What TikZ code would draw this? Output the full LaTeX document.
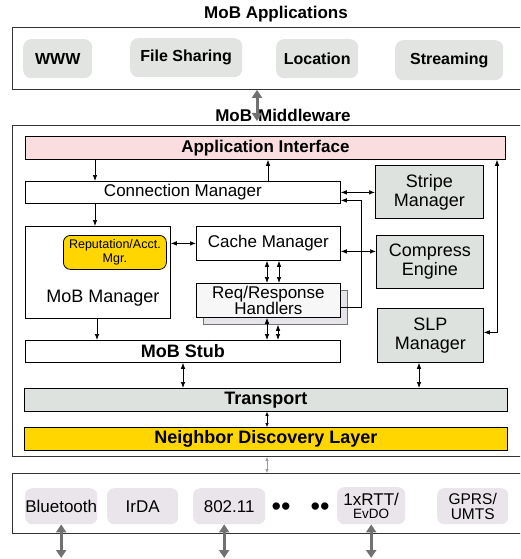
\documentclass[tikz,border=0pt]{standalone}
\usepackage{fontspec}
\setmainfont{Liberation Sans}
\usepackage{xcolor}
\usetikzlibrary{arrows.meta,calc}

\definecolor{pinkAI}{RGB}{250,221,222}
\definecolor{grayBox}{RGB}{222,226,222}
\definecolor{goldBox}{RGB}{255,214,0}
\definecolor{appGray}{RGB}{225,228,225}
\definecolor{radioGray}{RGB}{234,229,234}
\definecolor{shadowGray}{RGB}{231,228,233}
\definecolor{fatGray}{RGB}{112,114,112}

\newcommand{\fsApp}{\fontsize{16}{17}\selectfont}
\newcommand{\fsMid}{\fontsize{17}{18}\selectfont}
\newcommand{\fsBig}{\fontsize{18}{19}\selectfont}
\newcommand{\fsSmall}{\fontsize{12.5}{14}\selectfont}

\tikzset{
  outer/.style={draw=black!80, line width=0.9pt, inner sep=0pt, anchor=north west},
  layer/.style={draw, line width=0.8pt, inner sep=0pt, anchor=north west, align=center},
  appbox/.style={fill=appGray, rounded corners=8pt, inner sep=0pt, anchor=north west, font=\bfseries\fsApp},
  radiobox/.style={fill=radioGray, rounded corners=7pt, inner sep=0pt, anchor=north west, align=center, font=\fsMid},
  arr/.style={-{Latex[length=6pt,width=4.5pt]}, line width=0.7pt},
  darr/.style={{Latex[length=6pt,width=4.5pt]}-{Latex[length=6pt,width=4.5pt]}, line width=0.7pt},
  fat/.style={{Triangle[length=8pt,width=10pt]}-{Triangle[length=8pt,width=10pt]}, line width=3pt, draw=fatGray, fill=fatGray},
}

\begin{document}
\begin{tikzpicture}[x=1pt,y=-1pt]
    \clip (0,0) rectangle (520,559);

    % Aplicacoes
    \node[font=\bfseries\fsMid] (apptitle) at (276,14) {MoB Applications};
    \node[outer, minimum width=520, minimum height=62] (apps) at (12,27) {};
    \node[appbox, minimum width=69, minimum height=39] (www) at (23,39) {WWW};
    \node[appbox, minimum width=112, minimum height=39] (share) at (130,38) {File Sharing};
    \node[appbox, minimum width=82, minimum height=39] (loc) at (276,39) {Location};
    \node[appbox, minimum width=108, minimum height=40] (stream) at (395,40) {Streaming};

    % Middleware
    \node[font=\bfseries\fsMid] (mwtitle) at (283,115) {MoB\hspace{6pt}Middleware};
    \node[outer, minimum width=520, minimum height=331] (mw) at (12,125) {};
    \draw[fat, shorten >=4pt] (257,0 |- apps.south) -- (257,0 |- mw.north);

    \node[layer, fill=pinkAI, minimum width=480, minimum height=23, font=\bfseries\fsMid] (ai) at (25,136) {Application Interface};
    \node[layer, minimum width=315, minimum height=22, font=\fsMid] (cm) at (25,181) {Connection Manager};
    \node[layer, fill=grayBox, minimum width=108, minimum height=53, font=\fsBig] (stripe) at (375,165) {Stripe\\Manager};
    \node[layer, minimum width=145, minimum height=92] (mob) at (25,226) {};
    \node[font=\fsBig] (moblabel) at ($(mob.south)+(5,-21)$) {MoB Manager};
    \node[layer, fill=goldBox, rounded corners=7pt, minimum width=103, minimum height=34, font=\fsSmall] (rep) at (63,235) {Reputation/Acct.\\Mgr.};
    \node[layer, minimum width=144, minimum height=34, font=\fsMid] (cache) at (196,226) {Cache Manager};
    \node[layer, fill=grayBox, minimum width=107, minimum height=53, font=\fsBig] (compress) at (376,235) {Compress\\Engine};
    \node[layer, draw=black!55, fill=shadowGray, minimum width=144, minimum height=34] (reqshadow) at (203,290) {};
    \node[layer, fill=black!3, minimum width=144, minimum height=34, font=\fontsize{17}{14.5}\selectfont] (req) at (196,283) {Req/Response\\Handlers};
    \node[layer, fill=grayBox, minimum width=106, minimum height=54, font=\fsBig] (slp) at (377,308) {SLP\\Manager};
    \node[layer, minimum width=315, minimum height=22, font=\bfseries\fsBig] (stub) at (25,340) {MoB Stub};
    \node[layer, fill=grayBox, minimum width=483, minimum height=23, font=\bfseries\fsBig] (trans) at (24,388) {Transport};
    \node[layer, fill=goldBox, minimum width=483, minimum height=23, font=\bfseries\fsBig] (ndl) at (24,427) {Neighbor Discovery Layer};

    % Ligacoes internas
    \draw[arr] (95,0 |- ai.south) -- (95,0 |- cm.north);
    \draw[arr] (268,0 |- cm.north) -- (268,0 |- ai.south);
    \draw[darr] (cm.east) -- (cm.east -| stripe.west);
    \draw[arr] ($(req.east)+(0,7)$) -- ++(21,0) |- ($(cm.east)+(0,8)$);
    \draw[arr] (95,0 |- cm.south) -- (95,0 |- mob.north);
    \draw[darr] (cache.west -| mob.east) -- (cache.west);
    \draw[darr] ($(cache.east)+(0,8)$) coordinate (cc) -- (cc -| compress.west);
    \draw[darr] (267,0 |- cache.south) -- (267,0 |- req.north);
    \draw[darr] (279,0 |- cache.south) -- (279,0 |- req.north);
    \draw[darr] (267,0 |- req.south) -- (267,0 |- stub.north);
    \draw[darr] (278,0 |- reqshadow.south) -- (278,0 |- stub.north);
    \draw[arr] (97,0 |- mob.south) -- (97,0 |- stub.north);
    \draw[darr] (497,0 |- ai.south) |- ($(slp.east)+(0,-3)$);
    \draw[darr] (183,0 |- stub.south) -- (183,0 |- trans.north);
    \draw[darr] (419,0 |- slp.south) -- (419,0 |- trans.north);
    \draw[{Latex[length=4pt,width=3.5pt]}-{Latex[length=4pt,width=3.5pt]}, line width=0.6pt] (267,0 |- trans.south) -- (267,0 |- ndl.north);

    % Radios
    \node[outer, minimum width=520, minimum height=60] (radio) at (12,473) {};
    \draw[{Latex[length=4pt,width=3.5pt]}-{Latex[length=4pt,width=3.5pt]}, line width=0.6pt, black!40] (267,0 |- mw.south) -- (267,0 |- radio.north);
    \node[radiobox, minimum width=72, minimum height=36] (bt) at (25,488) {Bluetooth};
    \node[radiobox, minimum width=71, minimum height=36] (irda) at (107,488) {IrDA};
    \node[radiobox, minimum width=72, minimum height=36] (wifi) at (193,488) {802.11};
    \node[font=\fontsize{27}{27}\selectfont] (dotsa) at (281,509) {••};
    \node[font=\fontsize{27}{27}\selectfont] (dotsb) at (320,509) {••};
    \node[radiobox, minimum width=68, minimum height=37, font=\fontsize{17}{13.5}\selectfont] (rtt) at (337,487) {1xRTT/\\{\fontsize{13.5}{13.5}\selectfont EvDO}};
    \node[radiobox, minimum width=71, minimum height=36, font=\fontsize{15.5}{15}\selectfont] (gprs) at (437,488) {GPRS/\\UMTS};

    \coordinate (ground) at (0,558);
    \draw[fat] (bt.south) -- (bt.south |- ground);
    \draw[fat] ([xshift=-5pt]wifi.south) -- ([xshift=-5pt]wifi.south |- ground);
    \draw[fat] (rtt.south) -- (rtt.south |- ground);

\end{tikzpicture}
\end{document}
